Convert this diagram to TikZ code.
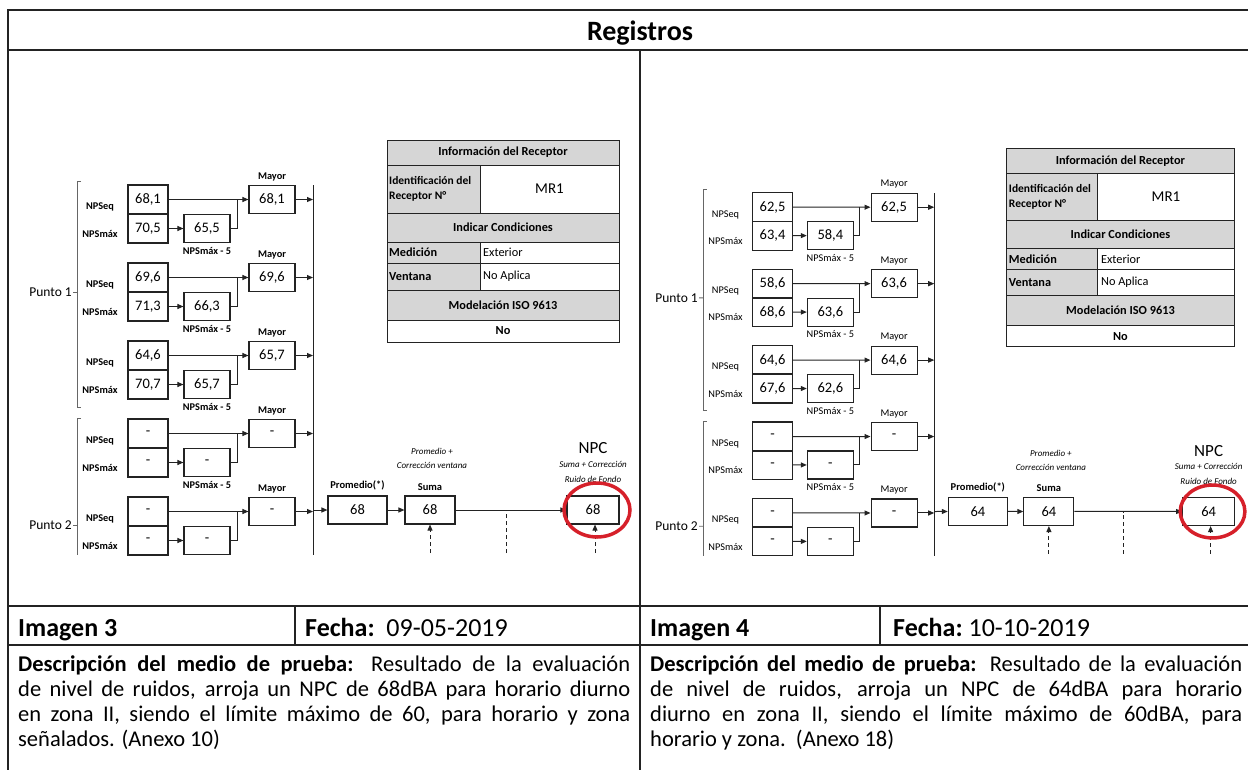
\documentclass[tikz,border=0pt]{standalone}
\usepackage{fontspec}
\setmainfont{Carlito}
\usetikzlibrary{arrows.meta,positioning}

\definecolor{rojo}{RGB}{214,32,42}
\definecolor{grisfondo}{RGB}{214,214,214}
\definecolor{tinta}{RGB}{35,35,35}

\tikzset{
  marco/.style={line width=1.3pt, draw=tinta},
  celda/.style={draw=tinta, line width=1.1pt, minimum width=40pt, minimum height=29pt, inner sep=0pt, font=\fontsize{14.5}{14.5}\selectfont},
  caja/.style={celda, minimum width=46pt, minimum height=28pt},
  etiq/.style={inner sep=1pt, font=\bfseries\fontsize{10.3}{11}\selectfont},
  titulo/.style={inner sep=1pt, font=\bfseries\fontsize{10.5}{11}\selectfont},
  nota/.style={inner sep=1pt, font=\itshape\fontsize{9}{9}\selectfont},
  flecha/.style={-{Triangle[length=6pt,width=5pt]}, line width=1pt, draw=tinta},
  linea/.style={line width=1pt, draw=tinta},
  llave/.style={line width=0.8pt, draw=black!60},
  guia/.style={line width=0.9pt, dash pattern=on 4pt off 3pt, draw=tinta},
  tabla/.style={line width=1pt, draw=tinta},
  ttexto/.style={inner sep=1pt, font=\bfseries\fontsize{12.3}{15}\selectfont},
  tnormal/.style={inner sep=1pt, font=\fontsize{12.3}{15}\selectfont},
  circulo/.style={draw=rojo, line width=3.5pt},
  grande/.style={inner sep=0pt, font=\bfseries\fontsize{26}{28}\selectfont},
  texto/.style={anchor=north west, inner sep=0pt, align=justify, font=\fontsize{22.5}{25}\selectfont},
}

% #1 prefijo, #2 grupos, #3 promedio, #4 suma, #5 NPC
\newcommand{\diagrama}[5]{%
  % linea vertical colectora
  \coordinate (#1vt) at (313,185);
  \coordinate (#1vb) at (313,555);
  \draw[linea] (#1vt) -- (#1vb);

  % llaves de los puntos
  \draw[llave] (81,181) -- (77,181) -- (77,407) -- (81,407);
  \node[anchor=east, inner sep=1pt, font=\fontsize{13.5}{13.5}\selectfont] (#1p1) at (73,292) {Punto 1};
  \draw[llave] (#1p1.east) -- (77,292);
  \draw[llave] (81,418) -- (77,418) -- (77,555);
  \node[anchor=east, inner sep=1pt, font=\fontsize{13.5}{13.5}\selectfont] (#1p2) at (73,525) {Punto 2};
  \draw[llave] (#1p2.east) -- (77,525);

  % grupos NPSeq / NPSmax
  \foreach \vq/\vm/\vr/\vy [count=\i] in {#2} {
    \pgfmathsetmacro{\ty}{107+78*\i}
    \node[celda] (#1q\i) at (148,\ty+14.5) {\vq};
    \node[celda] (#1m\i) at (148,\ty+43.5) {\vm};
    \node[caja] (#1r\i) at (207,\ty+43.5) {\vr};
    \node[caja] (#1y\i) at (272,\ty+14.5) {\vy};
    \node[etiq] (#1lq\i) at (100,\ty+22) {NPSeq};
    \node[etiq] (#1lm\i) at (100,\ty+49) {NPSmáx};
    \node[etiq, above=3pt of #1y\i] (#1ly\i) {Mayor};
    \ifnum\i<5 \node[etiq, below=3pt of #1r\i] (#1lr\i) {NPSmáx - 5};\fi
    \coordinate (#1j\i) at (237,\ty+14.5);
    \draw[flecha] (#1q\i) -- (#1y\i);
    \draw[flecha] (#1m\i) -- (#1r\i);
    \draw[linea] (#1r\i.east) -| (#1j\i);
    \draw[flecha] (#1y\i.east) -- (#1y\i.east -| #1vt);
  }

  % promedio, suma y NPC
  \node[caja, minimum width=59pt] (#1pr) at (357.5,510) {#3};
  \node[caja, minimum width=50pt] (#1su) at (430,510) {#4};
  \node[caja, minimum width=52pt] (#1np) at (593,510) {#5};
  \draw[flecha] (#1vt |- #1pr) -- (#1pr);
  \draw[flecha] (#1pr) -- (#1su);
  \draw[flecha] (#1su) -- (#1np);
  \node[titulo, above=4pt of #1pr] (#1prt) {Promedio(*)};
  \node[titulo, above=4pt of #1su] (#1sut) {Suma};
  \node[nota] (#1su2) at (432,465) {Corrección ventana};
  \node[nota] (#1su1) at (432,451) {Promedio +};
  \node[inner sep=0pt, font=\fontsize{17}{17}\selectfont] (#1npt) at (593,448) {NPC};
  \node[nota] (#1np1) at (593,464) {Suma + Corrección};
  \node[nota] (#1np2) at (593,479) {Ruido de Fondo};

  % lineas de trazos
  \coordinate (#1d1) at (430,553);
  \coordinate (#1d2) at (506,553);
  \coordinate (#1d3) at (595,553);
  \draw[guia, -{Triangle[length=6pt,width=5pt]}] (#1d1) -- (#1su.south);
  \draw[guia] (#1d2) -- (#1d2 |- #1su);
  \draw[guia, -{Triangle[length=6pt,width=5pt]}] (#1d3) -- (#1d3 |- #1np.south);
  \draw[circulo] (597,510) ellipse [x radius=33pt, y radius=27pt];

  % tabla del receptor
  \filldraw[tabla, fill=grisfondo] (387,140) rectangle (619,165);
  \filldraw[tabla, fill=grisfondo] (387,165) rectangle (480,213);
  \draw[tabla] (480,165) rectangle (619,213);
  \filldraw[tabla, fill=grisfondo] (387,213) rectangle (619,242);
  \filldraw[tabla, fill=grisfondo] (387,242) rectangle (480,263);
  \draw[tabla] (480,242) rectangle (619,263);
  \filldraw[tabla, fill=grisfondo] (387,263) rectangle (480,290);
  \draw[tabla] (480,263) rectangle (619,290);
  \filldraw[tabla, fill=grisfondo] (387,290) rectangle (619,320);
  \draw[tabla] (387,320) rectangle (619,342);
  \node[ttexto] (#1t1) at (503,152.5) {Información del Receptor};
  \node[ttexto, anchor=west, align=left, font=\bfseries\fontsize{11.5}{15}\selectfont] (#1t2) at (388,189) {Identificación del\\Receptor N°};
  \node[tnormal, font=\fontsize{15}{15}\selectfont] (#1t3) at (549.5,189) {MR1};
  \node[ttexto] (#1t4) at (503,227.5) {Indicar Condiciones};
  \node[ttexto, anchor=west] (#1t5) at (388,252.5) {Medición};
  \node[tnormal, anchor=west] (#1t6) at (482,252.5) {Exterior};
  \node[ttexto, anchor=west] (#1t7) at (388,276.5) {Ventana};
  \node[tnormal, anchor=west] (#1t8) at (482,276.5) {No Aplica};
  \node[ttexto] (#1t9) at (503,305) {Modelación ISO 9613};
  \node[ttexto] (#1t10) at (503,331) {No};
}

\begin{document}
\begin{tikzpicture}[x=1pt, y=-1pt]
  \useasboundingbox (0,0) rectangle (1248,769);

  % marco de la tabla
  \draw[marco] (8,775) -- (8,10) -- (1256,10);
  \draw[marco] (8,50) -- (1256,50);
  \draw[marco] (640,50) -- (640,775);
  \draw[marco] (8,606) -- (1256,606);
  \draw[marco] (8,645) -- (1256,645);
  \draw[marco] (295,606) -- (295,645);
  \draw[marco] (880,606) -- (880,645);
  \node[grande, anchor=base, font=\bfseries\fontsize{28}{30}\selectfont] (titulo) at (640,40) {Registros};

  % Imagen 3
  \diagrama{L}{68{,}1/70{,}5/65{,}5/68{,}1, 69{,}6/71{,}3/66{,}3/69{,}6, 64{,}6/70{,}7/65{,}7/65{,}7, -/-/-/-, -/-/-/-}{68}{68}{68}

  % Imagen 4
  \begin{scope}[shift={(627.5,11.7)}, scale=0.98,
      etiq/.style={inner sep=1pt, font=\fontsize{10.3}{11}\selectfont}]
    \diagrama{R}{62{,}5/63{,}4/58{,}4/62{,}5, 58{,}6/68{,}6/63{,}6/63{,}6, 64{,}6/67{,}6/62{,}6/64{,}6, -/-/-/-, -/-/-/-}{64}{64}{64}
  \end{scope}

  % fila de imagen y fecha
  \node[grande, anchor=base west] (img3) at (18,636) {Imagen 3};
  \node[grande, anchor=base west] (fec3) at (305,636) {Fecha:\mdseries\ \ 09-05-2019};
  \node[grande, anchor=base west] (img4) at (650,636) {Imagen 4};
  \node[grande, anchor=base west] (fec4) at (893,636) {Fecha:\mdseries\ 10-10-2019};

  % descripciones
  \node[texto, text width=612pt] (des3) at (18,656) {\textbf{Descripción del medio de prueba:} Resultado de la evaluación\linebreak de nivel de ruidos, arroja un NPC de 68dBA para horario diurno\linebreak en zona II, siendo el límite máximo de 60, para horario y zona\linebreak señalados. (Anexo 10)};
  \node[texto, text width=592pt] (des4) at (650,656) {\textbf{Descripción del medio de prueba:} Resultado de la evaluación\linebreak de nivel de ruidos, arroja un NPC de 64dBA para horario\linebreak diurno en zona II, siendo el límite máximo de 60dBA, para\linebreak horario y zona.\ \ (Anexo 18)};
\end{tikzpicture}
\end{document}
